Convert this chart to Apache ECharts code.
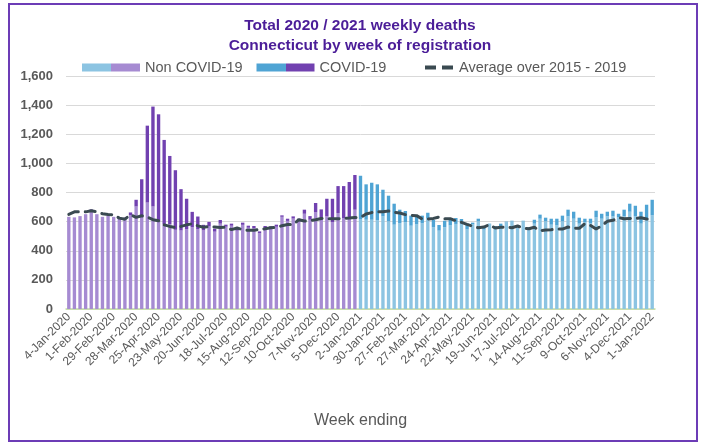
<!DOCTYPE html>
<html>
<head>
<meta charset="utf-8">
<script src="https://cdn.jsdelivr.net/npm/echarts@6/dist/echarts.min.js"></script>
<style>
html,body{margin:0;padding:0;background:#fff;}
#c{width:703px;height:443px;}
</style>
</head>
<body>
<div id="c"></div>
<script>
// Week ending dates: weekly from 4-Jan-2020 to 1-Jan-2022 (105 weeks)
const startDate = Date.UTC(2020, 0, 4);
const weekCount = 105;
const monthNames = ['Jan','Feb','Mar','Apr','May','Jun','Jul','Aug','Sep','Oct','Nov','Dec'];
const weeks = [];
for (let i = 0; i < weekCount; i++) {
  const d = new Date(startDate + i * 7 * 86400000);
  weeks.push(d.getUTCDate() + '-' + monthNames[d.getUTCMonth()] + '-' + d.getUTCFullYear());
}
const firstWeek2021 = 52;

const yTicks = [0, 200, 400, 600, 800, 1000, 1200, 1400, 1600];

// Non COVID-19 deaths per week
const nonCovid = [
  633, 629, 638, 651, 686, 651, 633, 640, 633, 624, 629, 645, 704, 635, 731, 704,
  601, 583, 583, 544, 539, 549, 562, 549, 540, 567, 531, 586, 565, 572, 538, 578,
  558, 556, 520, 556, 554, 565, 633, 605, 621, 600, 654, 613, 664, 624, 636, 595,
  659, 625, 625, 682,
  618, 613, 613, 609, 636, 602, 579, 590, 595, 572, 581, 590, 620, 561, 538, 561,
  574, 584, 586, 546, 581, 602, 545, 581, 556, 568, 595, 602, 560, 603, 560, 586,
  620, 602, 579, 574, 602, 636, 620, 586, 595, 590, 629, 620, 636, 636, 629, 636,
  668, 636, 586, 609, 643
];
// COVID-19 deaths per week
const covid = [
  0, 0, 0, 0, 0, 0, 0, 0, 0, 0, 0, 18, 46, 256, 528, 686,
  736, 578, 468, 409, 284, 208, 105, 86, 38, 31, 20, 25, 14, 14, 13, 15,
  14, 14, 13, 14, 14, 14, 10, 15, 15, 20, 28, 25, 64, 60, 121, 162,
  185, 219, 247, 238,
  297, 243, 254, 247, 183, 176, 144, 92, 78, 69, 62, 51, 41, 52, 39, 45,
  42, 41, 32, 40, 12, 18, 16, 5, 14, 18, 5, 4, 3, 3, 3, 27,
  28, 25, 41, 46, 39, 46, 48, 41, 25, 30, 46, 34, 32, 39, 25, 46,
  55, 73, 82, 107, 107
];
// Average over 2015 - 2019
const average = [
  650, 667, 668, 667, 674, 667, 654, 649, 647, 624, 617, 647, 629, 640, 631, 613,
  606, 578, 567, 560, 567, 578, 585, 571, 561, 566, 563, 560, 561, 545, 556, 545,
  540, 540, 547, 551, 558, 561, 572, 580, 579, 613, 604, 606, 613, 622, 620, 620,
  620, 622, 625, 629,
  629, 652, 662, 668, 668, 673, 664, 659, 648, 643, 641, 618, 618, 622, 632, 620,
  620, 606, 595, 581, 568, 558, 563, 579, 556, 561, 563, 558, 570, 556, 551, 561,
  538, 542, 545, 549, 549, 563, 556, 554, 586, 574, 549, 572, 602, 609, 627, 620,
  622, 620, 627, 618, 618
];

const colNon2020 = '#a68bd2';
const colNon2021 = '#8cc4e2';
const colCov2020 = '#7141b0';
const colCov2021 = '#4fa4d4';
const colAvg = '#3a4a51';

function split(c1, c2) {
  return {type: 'linear', x: 0, y: 0, x2: 1, y2: 0, colorStops: [
    {offset: 0, color: c1}, {offset: 0.5, color: c1},
    {offset: 0.5, color: c2}, {offset: 1, color: c2}]};
}

const chart = echarts.init(document.getElementById('c'), null, {renderer: 'canvas'});
chart.setOption({
  animation: false,
  backgroundColor: '#ffffff',
  title: {
    text: 'Total 2020 / 2021 weekly deaths\nConnecticut by week of registration',
    left: 355, top: 11, textAlign: 'center',
    textStyle: {fontFamily: 'Liberation Sans', fontSize: 15.5, fontWeight: 'bold', color: '#4b1d98', lineHeight: 20}
  },
  graphic: [{
    type: 'rect', shape: {x: 9, y: 4, width: 688, height: 437},
    style: {fill: 'none', stroke: '#6c3cb6', lineWidth: 2}, silent: true
  }],
  legend: [{
    left: 82, top: 60, padding: 0, itemWidth: 58, itemHeight: 8, itemGap: 14,
    icon: 'rect',
    textStyle: {fontFamily: 'Liberation Sans', fontSize: 14.5, color: '#595959'},
    data: [
      {name: 'Non COVID-19', itemStyle: {color: split(colNon2021, colNon2020)}},
      {name: 'COVID-19', itemStyle: {color: split(colCov2021, colCov2020)}}
    ]
  }, {
    left: 425, top: 60, padding: 0, itemWidth: 30, itemHeight: 4,
    textStyle: {fontFamily: 'Liberation Sans', fontSize: 14.5, color: '#595959'},
    data: [{
      name: 'Average over 2015 - 2019',
      icon: 'path://M0,0h11v4h-11z M17,0h11v4h-11z',
      itemStyle: {color: colAvg, borderWidth: 0},
      lineStyle: {width: 0, opacity: 0}
    }]
  }],
  grid: {left: 66, right: 48, top: 76, bottom: 134},
  xAxis: {
    type: 'category', data: weeks,
    axisLine: {lineStyle: {color: '#c3dea3', width: 1.5}},
    axisTick: {show: false},
    axisLabel: {interval: 3, rotate: 45, fontFamily: 'Liberation Sans', fontSize: 12, color: '#595959', margin: 6},
    name: 'Week ending', nameLocation: 'middle', nameGap: 104,
    nameTextStyle: {fontFamily: 'Liberation Sans', fontSize: 16, color: '#595959'}
  },
  yAxis: {
    type: 'value', min: yTicks[0], max: yTicks[yTicks.length - 1], interval: 200,
    axisLine: {show: false}, axisTick: {show: false},
    splitLine: {lineStyle: {color: '#d9d9d9', width: 1}},
    axisLabel: {
      fontFamily: 'Liberation Sans', fontSize: 13, fontWeight: 'bold', color: '#595959', margin: 13,
      formatter: v => String(v).replace(/\B(?=(\d{3})+(?!\d))/g, ',')
    }
  },
  series: [{
    name: 'Non COVID-19', type: 'bar', stack: 'deaths', barWidth: '60%',
    data: nonCovid,
    itemStyle: {color: p => p.dataIndex < firstWeek2021 ? colNon2020 : colNon2021}
  }, {
    name: 'COVID-19', type: 'bar', stack: 'deaths', barWidth: '60%',
    data: covid,
    itemStyle: {color: p => p.dataIndex < firstWeek2021 ? colCov2020 : colCov2021}
  }, {
    name: 'Average over 2015 - 2019', type: 'line', data: average,
    symbol: 'none', z: 5,
    itemStyle: {color: colAvg},
    lineStyle: {color: colAvg, width: 3, type: [10, 7], cap: 'round'}
  }]
});
</script>
</body>
</html>
